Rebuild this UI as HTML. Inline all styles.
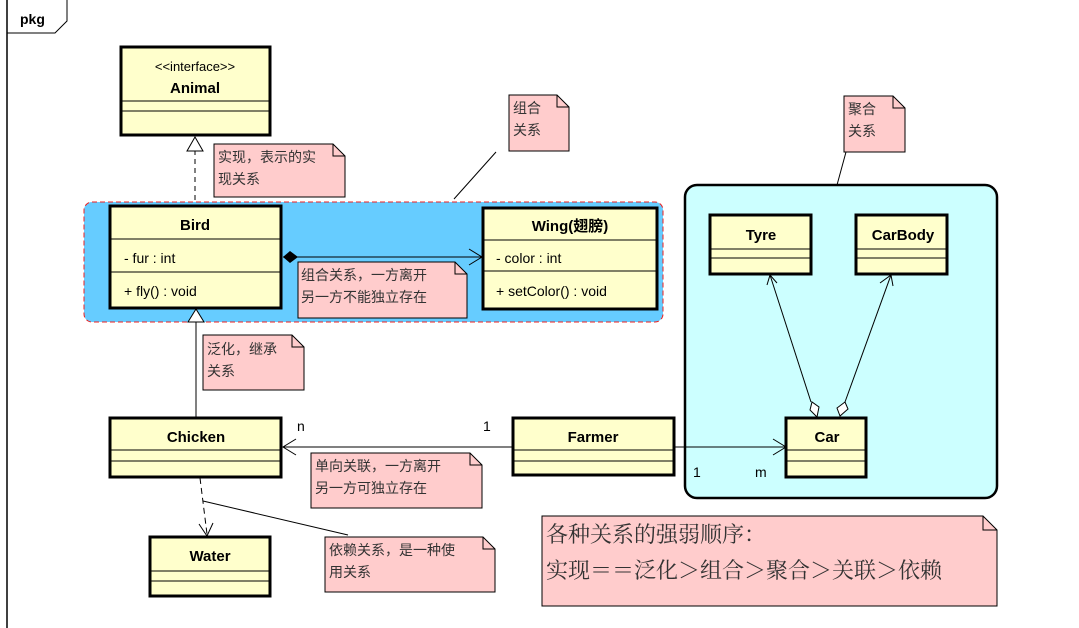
<!DOCTYPE html>
<html><head><meta charset="utf-8"><style>
html,body{margin:0;padding:0;background:#fff;}
svg{display:block;}
text{font-family:"Liberation Sans","Noto Sans CJK SC",sans-serif;fill:#000;}
.cn{font-family:"Noto Sans CJK SC","WenQuanYi Zen Hei",sans-serif;font-size:14px;fill:#333;}
.cls{fill:#ffffcc;stroke:#000;stroke-width:3;}
.dv{stroke:#000;stroke-width:1;}
.nt{fill:#ffcccc;stroke:#000;stroke-width:1;}
.b{font-weight:bold;font-size:15px;}
.m{font-size:14px;}
</style></head><body>
<svg width="1079" height="628" viewBox="0 0 1079 628">
<path d="M7 628 V0" stroke="#000" stroke-width="1.5" fill="none"/>
<path d="M7 33 H55 L67 21 V0" stroke="#000" stroke-width="1" fill="none"/>
<text x="20" y="24" font-weight="bold" font-size="14">pkg</text>

<rect class="cls" x="121" y="47" width="149" height="88"/>
<line class="dv" x1="121" y1="101" x2="270" y2="101"/>
<line class="dv" x1="121" y1="111" x2="270" y2="111"/>
<text x="195" y="71" text-anchor="middle" font-size="13">&lt;&lt;interface&gt;&gt;</text>
<text x="195" y="93" text-anchor="middle" class="b">Animal</text>

<line x1="195" y1="150" x2="195" y2="202" stroke="#000" stroke-dasharray="5,4"/>
<path d="M195 137 L187 151 H203 Z" fill="#fff" stroke="#000"/>
<path class="nt" d="M214 144 H333 L345 156 V197 H214 Z"/><path d="M333 144 V156 H345" fill="none" stroke="#000"/>
<text class="cn" x="218" y="162">实现，表示的实</text><text class="cn" x="218" y="184">现关系</text>

<rect x="84" y="202" width="579" height="120" rx="8" fill="#66ccff" stroke="#ee2020" stroke-dasharray="5,3"/>

<rect class="cls" x="110" y="206" width="171" height="102"/>
<line class="dv" x1="110" y1="239" x2="281" y2="239"/>
<line class="dv" x1="110" y1="272" x2="281" y2="272"/>
<text x="195" y="230" text-anchor="middle" class="b">Bird</text>
<text x="124" y="263" class="m">- fur : int</text>
<text x="124" y="296" class="m">+ fly() : void</text>

<rect class="cls" x="483" y="208" width="174" height="101"/>
<line class="dv" x1="483" y1="240" x2="657" y2="240"/>
<line class="dv" x1="483" y1="271" x2="657" y2="271"/>
<text x="570" y="231" text-anchor="middle" class="b">Wing(<tspan font-family="Noto Sans CJK SC,sans-serif">翅膀</tspan>)</text>
<text x="496" y="263" class="m">- color : int</text>
<text x="496" y="296" class="m">+ setColor() : void</text>

<line x1="283" y1="257" x2="482" y2="257" stroke="#000"/>
<path d="M283 257 L290 251 L298 257 L290 263 Z" fill="#000"/>
<path d="M469 249 L482 257 L469 265" fill="none" stroke="#000"/>
<path class="nt" d="M298 262 H455 L467 274 V318 H298 Z"/><path d="M455 262 V274 H467" fill="none" stroke="#000"/>
<text class="cn" x="301" y="280">组合关系，一方离开</text><text class="cn" x="301" y="302">另一方不能独立存在</text>

<line x1="496" y1="152" x2="454" y2="199" stroke="#000"/>
<path class="nt" d="M509 95 H557 L569 107 V151 H509 Z"/><path d="M557 95 V107 H569" fill="none" stroke="#000"/>
<text class="cn" x="513" y="113">组合</text><text class="cn" x="513" y="135">关系</text>

<line x1="196" y1="322" x2="196" y2="418" stroke="#000"/>
<path d="M196 309 L188 322 H204 Z" fill="#fff" stroke="#000"/>
<path class="nt" d="M203 335 H292 L304 347 V390 H203 Z"/><path d="M292 335 V347 H304" fill="none" stroke="#000"/>
<text class="cn" x="207" y="354">泛化，继承</text><text class="cn" x="207" y="376">关系</text>

<rect class="cls" x="110" y="418" width="171" height="59"/>
<line class="dv" x1="110" y1="450" x2="281" y2="450"/>
<line class="dv" x1="110" y1="461" x2="281" y2="461"/>
<text x="196" y="442" text-anchor="middle" class="b">Chicken</text>

<rect class="cls" x="513" y="418" width="161" height="57"/>
<line class="dv" x1="513" y1="450" x2="674" y2="450"/>
<line class="dv" x1="513" y1="461" x2="674" y2="461"/>
<text x="593" y="442" text-anchor="middle" class="b">Farmer</text>

<line x1="283" y1="447" x2="513" y2="447" stroke="#000"/>
<path d="M296 439 L283 447 L296 455" fill="none" stroke="#000"/>
<text x="297" y="431" class="m">n</text><text x="483" y="431" class="m">1</text>
<path class="nt" d="M311 453 H470 L482 465 V508 H311 Z"/><path d="M470 453 V465 H482" fill="none" stroke="#000"/>
<text class="cn" x="315" y="471">单向关联，一方离开</text><text class="cn" x="315" y="493">另一方可独立存在</text>

<rect x="685" y="185" width="312" height="313" rx="12" fill="#ccffff" stroke="#000" stroke-width="2.5"/>
<line x1="846" y1="152" x2="837" y2="185" stroke="#000"/>
<path class="nt" d="M844 96 H893 L905 108 V152 H844 Z"/><path d="M893 96 V108 H905" fill="none" stroke="#000"/>
<text class="cn" x="848" y="114">聚合</text><text class="cn" x="848" y="136">关系</text>

<rect class="cls" x="710" y="215" width="101" height="59"/>
<line class="dv" x1="710" y1="249" x2="811" y2="249"/>
<line class="dv" x1="710" y1="258" x2="811" y2="258"/>
<text x="761" y="240" text-anchor="middle" class="b">Tyre</text>
<rect class="cls" x="856" y="215" width="91" height="59"/>
<line class="dv" x1="856" y1="249" x2="947" y2="249"/>
<line class="dv" x1="856" y1="258" x2="947" y2="258"/>
<text x="903" y="240" text-anchor="middle" class="b">CarBody</text>

<rect class="cls" x="786" y="418" width="80" height="59"/>
<line class="dv" x1="786" y1="450" x2="866" y2="450"/>
<line class="dv" x1="786" y1="461" x2="866" y2="461"/>
<text x="827" y="442" text-anchor="middle" class="b">Car</text>

<line x1="811" y1="402" x2="770" y2="275" stroke="#000"/>
<path d="M767 285 L770 275 L777 283" fill="none" stroke="#000"/>
<path d="M817 417 L810 410 L812 402 L819 407 Z" fill="#fff" stroke="#000"/>
<line x1="845" y1="402" x2="891" y2="275" stroke="#000"/>
<path d="M880 283 L891 275 L893 286" fill="none" stroke="#000"/>
<path d="M840 416 L837 408 L845 402 L848 409 Z" fill="#fff" stroke="#000"/>

<line x1="674" y1="447" x2="786" y2="447" stroke="#000"/>
<path d="M773 439 L786 447 L773 455" fill="none" stroke="#000"/>
<text x="693" y="477" class="m">1</text><text x="755" y="477" class="m">m</text>

<rect class="cls" x="150" y="537" width="120" height="59"/>
<line class="dv" x1="150" y1="571" x2="270" y2="571"/>
<line class="dv" x1="150" y1="581" x2="270" y2="581"/>
<text x="210" y="561" text-anchor="middle" class="b">Water</text>
<line x1="200" y1="478" x2="207" y2="534" stroke="#000" stroke-dasharray="6,4"/>
<path d="M199 524 L207 536 L213 523" fill="none" stroke="#000"/>
<line x1="203" y1="501" x2="348" y2="535" stroke="#000"/>
<path class="nt" d="M325 537 H483 L495 549 V592 H325 Z"/><path d="M483 537 V549 H495" fill="none" stroke="#000"/>
<text class="cn" x="329" y="555">依赖关系，是一种使</text><text class="cn" x="329" y="577">用关系</text>

<path class="nt" d="M542 516 H983 L997 530 V606 H542 Z"/><path d="M983 516 V530 H997" fill="none" stroke="#000"/>
<text class="cn" x="546" y="542" style="font-size:22px;font-family:'Noto Serif CJK SC','Noto Sans CJK SC',serif">各种关系的强弱顺序：</text>
<text class="cn" x="546" y="578" style="font-size:22px;font-family:'Noto Serif CJK SC','Noto Sans CJK SC',serif">实现＝＝泛化＞组合＞聚合＞关联＞依赖</text>
</svg>
</body></html>
